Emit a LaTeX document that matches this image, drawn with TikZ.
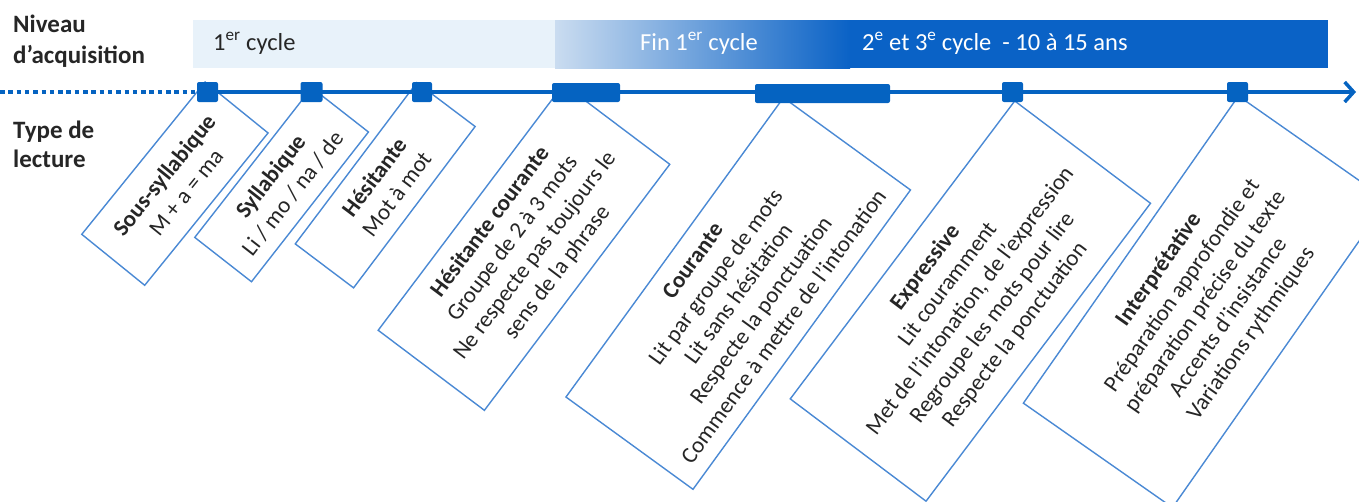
\documentclass[tikz,border=0pt]{standalone}
\usepackage{fontspec}
\setmainfont{Carlito}
\usetikzlibrary{arrows.meta}
\definecolor{axisblue}{HTML}{0563C1}
\definecolor{barlight}{HTML}{E8F2FA}
\definecolor{barmid}{HTML}{CADCF0}
\definecolor{bardark}{HTML}{0A62C6}
\definecolor{boxblue}{HTML}{4A89D4}
\definecolor{txt}{HTML}{262626}
\begin{document}
\begin{tikzpicture}[x=1pt,y=-1pt,
  lbl/.style={font=\fontsize{25}{30}\selectfont\bfseries, text=txt, anchor=base west, inner sep=0},
  bartext/.style={font=\fontsize{24.5}{28}\selectfont, anchor=base west, inner sep=0},
  readbox/.style={draw=boxblue, line width=1.4pt, fill=white, anchor=north east, align=center,
    inner sep=0, text=txt, font=\fontsize{23}{28}\selectfont},
  marker/.style={fill=axisblue, rounded corners=2pt, inner sep=0, minimum height=20pt}
]
\useasboundingbox (0,0) rectangle (1359,501);
\clip (0,0) rectangle (1359,501);

% top bar
\fill[barlight] (193,20) rectangle (556,68);
\fill[bardark] (849,20) rectangle (1328,68);
\shade[left color=barmid, right color=bardark] (555,20) rectangle (850,68);
\node[bartext, text=txt] (c1) at (213,50) {1\textsuperscript{er} cycle};
\node[bartext, text=white] (c2) at (640,50) {Fin 1\textsuperscript{er} cycle};
\node[bartext, text=white] (c3) at (862,50) {2\textsuperscript{e} et 3\textsuperscript{e} cycle\ \ - 10 à 15 ans};

% left labels
\node[lbl] (niv) at (13,32) {Niveau};
\node[lbl] (acq) at (13,63) {d’acquisition};
\node[lbl] (typ) at (13,138) {Type de};
\node[lbl] (lec) at (13,167) {lecture};

% boxes
\node[readbox, rotate=51, minimum width=196pt, minimum height=81pt] (b1) at (205,81)
  {\textbf{Sous-syllabique}\\M + a = ma};
\node[readbox, rotate=52, minimum width=190pt, minimum height=72pt] (b2) at (311.6,86.7)
  {\textbf{Syllabique}\\Li / mo / na / de};
\node[readbox, rotate=53, minimum width=202pt, minimum height=73pt] (b3) at (416.7,81.6)
  {\textbf{Hésitante}\\Mot à mot};
\node[readbox, rotate=53, minimum width=308pt, minimum height=133pt] (b4) at (563.4,83.3)
  {\textbf{Hésitante courante}\\Groupe de 2 à 3 mots\\Ne respecte pas toujours le\\sens de la phrase};
\node[readbox, rotate=54, minimum width=370pt, minimum height=157pt] (b5) at (783.3,96.7)
  {\textbf{Courante}\\Lit par groupe de mots\\Lit sans hésitation\\Respecte la ponctuation\\Commence à mettre de l’intonation};
\node[readbox, rotate=53, minimum width=373pt, minimum height=170pt] (b6) at (1014.6,100)
  {\textbf{Expressive}\\Lit couramment\\Met de l’intonation, de l’expression\\Regroupe les mots pour lire\\Respecte la ponctuation};
\node[readbox, rotate=55, minimum width=375pt, minimum height=182pt] (b7) at (1238.3,95)
  {\textbf{Interprétative}\\Préparation approfondie et\\préparation précise du texte\\Accents d’insistance\\Variations rythmiques};

% axis
\coordinate (d0) at (0,92);
\coordinate (start) at (199,92);
\coordinate (end) at (1356,92);
\draw[axisblue, line width=4pt, dash pattern=on 4.5pt off 3.8pt] (d0) -- (start);
\draw[axisblue, line width=3.5pt, -{Straight Barb[length=9pt, width=20pt]}] (start) -- (end);

% markers
\node[marker, minimum width=21pt] (m1) at (207.5,92) {};
\node[marker, minimum width=22pt] (m2) at (311.5,92) {};
\node[marker, minimum width=20pt] (m3) at (422,92) {};
\node[marker, minimum width=68pt, minimum height=19pt] (m4) at (586,92.5) {};
\node[marker, minimum width=135pt, minimum height=19pt] (m5) at (822.5,93.5) {};
\node[marker, minimum width=21pt] (m6) at (1012.5,92) {};
\node[marker, minimum width=21pt] (m7) at (1237.5,92) {};
\end{tikzpicture}
\end{document}
